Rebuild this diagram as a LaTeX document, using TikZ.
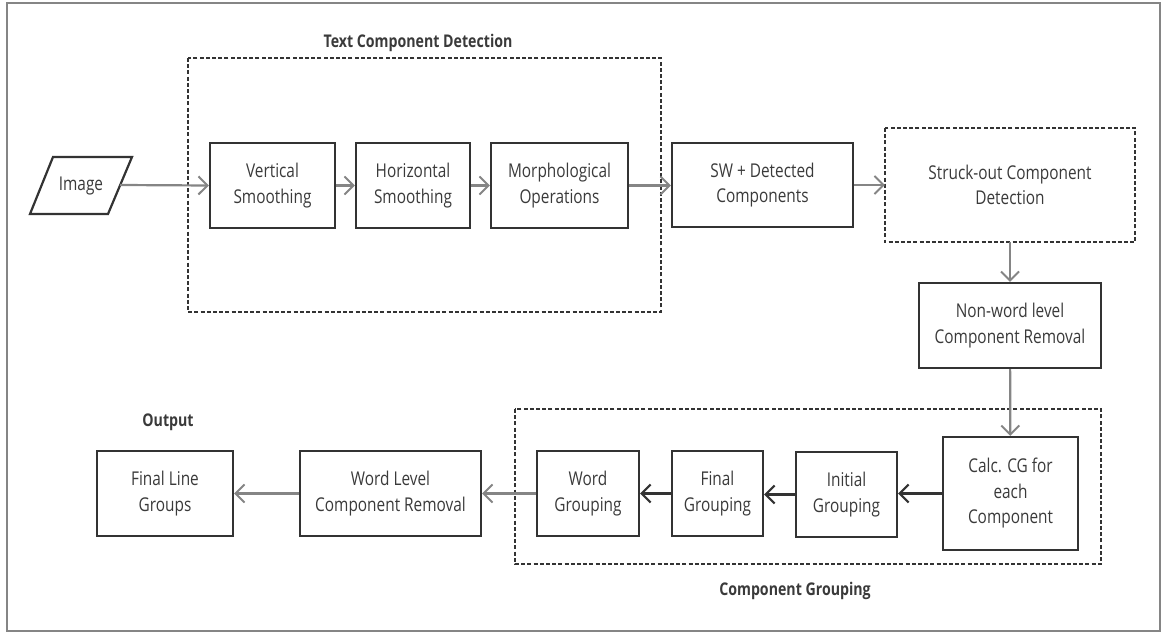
\documentclass[tikz,border=0pt]{standalone}
\usepackage{fontspec}
\setmainfont{Open Sans}[FakeStretch=0.81]
\usetikzlibrary{arrows.meta}
\definecolor{boxc}{HTML}{333333}
\definecolor{txtc}{HTML}{3A3A3A}
\definecolor{arrg}{HTML}{858585}
\tikzset{
  box/.style={draw=boxc, line width=2.2pt, minimum width=#1, align=center, text=txtc, font=\fontsize{19}{25.5}\selectfont, inner sep=0pt},
  grp/.style={draw=boxc, line width=1.7pt, dash pattern=on 4pt off 2.2pt},
  lbl/.style={text=txtc, font=\fontsize{17.5}{20}\selectfont\bfseries},
  garr/.style={draw=arrg, line width=2.2pt, -{Straight Barb[length=9pt,width=18pt,line width=2pt]}},
  karr/.style={draw=boxc, line width=2.4pt, -{Straight Barb[length=9pt,width=18pt,line width=2.2pt]}},
}
\begin{document}
\begin{tikzpicture}[x=1pt,y=-1pt]
\useasboundingbox (0,0) rectangle (1164,634);
% frame
\draw[draw=arrg, line width=2pt] (7,3) rectangle (1160,631);
% group boxes
\draw[grp] (188,58) rectangle (661,312);
\draw[grp] (515,409) rectangle (1101,564);
\node[lbl] (t1) at (418,43) {Text Component Detection};
\node[lbl] (t2) at (795,591) {Component Grouping};
\node[lbl] (t3) at (168,422) {Output};
% image parallelogram
\draw[draw=boxc, line width=2.2pt] (53,157) -- (132,157) -- (108,214) -- (30,214) -- cycle;
\node[text=txtc, font=\fontsize{19}{25.5}\selectfont] (img) at (81,185.5) {Image};
\coordinate (imgR) at (120,185);
% boxes
\node[box=125pt, minimum height=85pt] (vs) at (272.5,185.5) {Vertical\\Smoothing};
\node[box=114pt, minimum height=85pt] (hs) at (413,185.5) {Horizontal\\Smoothing};
\node[box=137pt, minimum height=85pt] (mo) at (559.5,185.5) {Morphological\\Operations};
\node[box=181pt, minimum height=84pt] (sw) at (762.5,185) {SW + Detected\\Components};
\node[box=248pt, minimum height=112pt, draw=none] (so) at (1010,185) {Struck-out Component\\Detection};
\draw[grp] (so.north west) rectangle (so.south east);
\node[box=182pt, minimum height=85pt] (nw) at (1010,325.5) {Non-word level\\Component Removal};
\node[box=135pt, minimum height=113pt] (cg) at (1010.5,493.5) {Calc. CG for\\each\\Component};
\node[box=101pt, minimum height=85pt] (ig) at (846.5,494.5) {Initial\\Grouping};
\node[box=91pt, minimum height=85pt] (fg) at (717.5,493.5) {Final\\Grouping};
\node[box=102pt, minimum height=85pt] (wg) at (588,493.5) {Word\\Grouping};
\node[box=181pt, minimum height=85pt] (wl) at (390.5,493.5) {Word Level\\Component Removal};
\node[box=136pt, minimum height=85pt] (fl) at (165,493.5) {Final Line\\Groups};
% connectors
\draw[garr] (imgR) -- (vs.west);
\draw[garr] (vs) -- (hs);
\draw[garr] (hs) -- (mo);
\draw[garr] (mo.east) -- (mo.east -| sw.west);
\draw[garr] (sw) -- (so);
\draw[garr] (so) -- (nw);
\draw[garr] (nw) -- (cg);
\draw[karr] (cg) -- (cg.west -| ig.east);
\draw[karr] (ig.west) -- (ig.west -| fg.east);
\draw[karr] (fg) -- (wg);
\draw[garr] (wg) -- (wl);
\draw[garr] (wl) -- (fl);
\end{tikzpicture}
\end{document}
